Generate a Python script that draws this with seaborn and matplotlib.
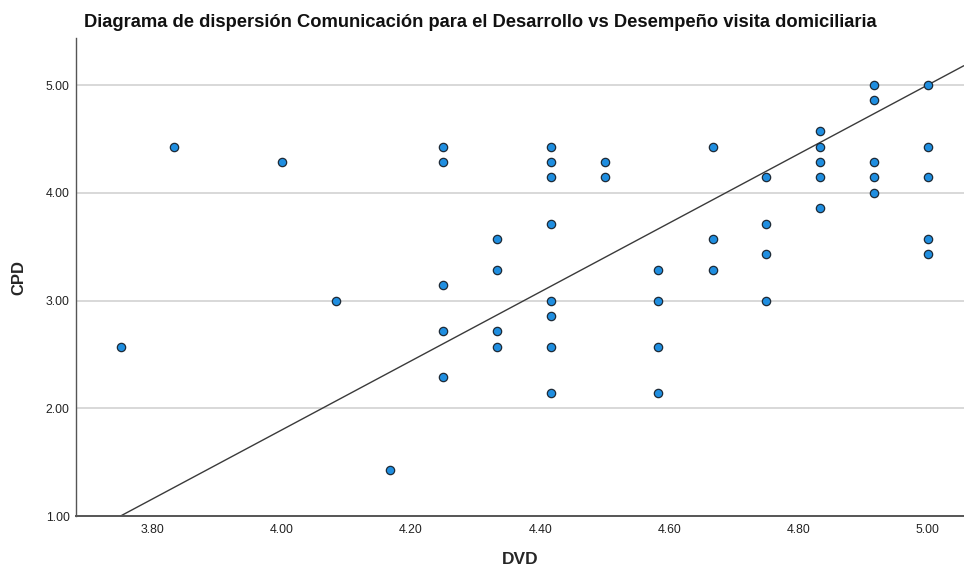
import numpy as np
import pandas as pd
import matplotlib
matplotlib.use("Agg")
import matplotlib.pyplot as plt
import seaborn as sns

# DVD (x) and CPD (y) values
dvd = [3.75, 3.833, 4.0, 4.083, 4.167,
       4.25, 4.25, 4.25, 4.25, 4.25,
       4.333, 4.333, 4.333, 4.333,
       4.417, 4.417, 4.417, 4.417, 4.417, 4.417, 4.417, 4.417,
       4.5, 4.5,
       4.583, 4.583, 4.583, 4.583,
       4.667, 4.667, 4.667,
       4.75, 4.75, 4.75, 4.75,
       4.833, 4.833, 4.833, 4.833, 4.833,
       4.917, 4.917, 4.917, 4.917, 4.917,
       5.0, 5.0, 5.0, 5.0, 5.0]
cpd = [2.571, 4.429, 4.286, 3.0, 1.429,
       4.429, 4.286, 3.143, 2.714, 2.286,
       3.571, 3.286, 2.714, 2.571,
       4.429, 4.286, 4.143, 3.714, 3.0, 2.857, 2.571, 2.143,
       4.286, 4.143,
       3.286, 3.0, 2.571, 2.143,
       4.429, 3.571, 3.286,
       4.143, 3.714, 3.429, 3.0,
       4.571, 4.429, 4.286, 4.143, 3.857,
       5.0, 4.857, 4.286, 4.143, 4.0,
       5.0, 4.429, 4.143, 3.571, 3.429]

# fit line as drawn in the reference
fit_slope = 3.2
fit_intercept = -11.0

x_ticks = [3.80, 4.00, 4.20, 4.40, 4.60, 4.80, 5.00]
y_ticks = [1.0, 2.0, 3.0, 4.0, 5.0]

df = pd.DataFrame({"DVD": dvd, "CPD": cpd})

sns.set_theme(style="white")
plt.rcParams["font.family"] = ["Liberation Sans", "DejaVu Sans"]

fig = plt.figure(figsize=(9.64, 5.69), dpi=100)
ax = fig.add_axes([0.0788, 0.0931, 0.921, 0.840])

for yv in y_ticks[1:]:
    ax.axhline(yv, color="#d6d6d6", lw=1.3, zorder=0)

sns.scatterplot(data=df, x="DVD", y="CPD", ax=ax, s=36, color="#1f8ee0",
                edgecolor="#1e2a36", linewidth=0.9, zorder=3)
ax.axline((0, fit_intercept), slope=fit_slope, color="#3a3a3a", lw=1.0, zorder=2)

ax.set_xlim(3.681, 5.056)
ax.set_ylim(1.0, 5.436)
ax.set_xticks(x_ticks)
ax.set_xticklabels([f"{v:.2f}" for v in x_ticks], fontsize=8.8)
ax.set_yticks(y_ticks)
ax.set_yticklabels([f"{v:.2f}" for v in y_ticks], fontsize=8.8)
ax.tick_params(axis="both", length=0, colors="#222222")
ax.tick_params(axis="x", pad=6)
ax.tick_params(axis="y", pad=4.5)

sns.despine(ax=ax, top=True, right=True)
ax.spines["left"].set_color("#555555")
ax.spines["bottom"].set_color("#555555")
ax.spines["left"].set_linewidth(1.0)
ax.spines["bottom"].set_linewidth(1.4)

ax.set_xlabel("DVD", fontsize=12.5, fontweight="bold", labelpad=11)
ax.set_ylabel("CPD", fontsize=12, fontweight="bold", labelpad=14)
fig.text(0.087, 0.976,
         "Diagrama de dispersión Comunicación para el Desarrollo vs Desempeño visita domiciliaria",
         fontsize=13.2, fontweight="bold", va="top", ha="left", color="#111111")

fig.savefig("out.png", dpi=100)
